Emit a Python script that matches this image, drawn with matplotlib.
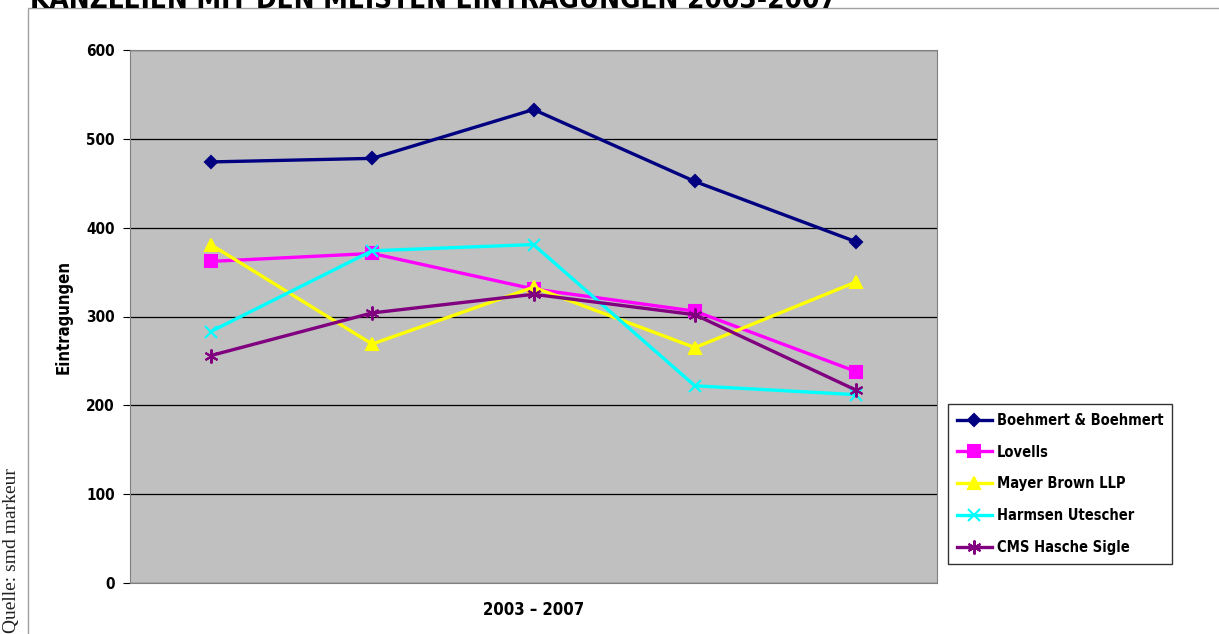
import matplotlib
matplotlib.use("Agg")
import matplotlib.pyplot as plt
from matplotlib.patches import Rectangle

plt.rcParams['font.family'] = ['Liberation Sans Narrow', 'DejaVu Sans']
plt.rcParams['font.stretch'] = 'condensed'

years = ['2003', '2004', '2005', '2006', '2007']
boehmert = [474, 478, 533, 452, 384]
lovells = [362, 371, 331, 306, 238]
mayer = [381, 269, 333, 265, 339]
harmsen = [283, 374, 381, 222, 212]
cms = [256, 304, 325, 302, 217]

series = [
    ('Boehmert & Boehmert', boehmert, '#000080', 'D', 6),
    ('Lovells', lovells, '#FF00FF', 's', 8),
    ('Mayer Brown LLP', mayer, '#FFFF00', '^', 9),
    ('Harmsen Utescher', harmsen, '#00FFFF', 'x', 9),
    ('CMS Hasche Sigle', cms, '#800080', (6, 2, 0), 10),
]

fig = plt.figure(figsize=(12.19, 6.34), dpi=100)

# outer chart frame
fig.patches.append(Rectangle((28 / 1219, -0.01), 1.0, (634 - 8) / 634 + 0.01,
                             transform=fig.transFigure, fill=False,
                             edgecolor='#a0a0a0', linewidth=1))

ax = fig.add_axes([130 / 1219, 51 / 634, 807 / 1219, 533 / 634])
ax.set_facecolor('#C0C0C0')

x = list(range(len(years)))
for name, vals, col, mk, ms in series:
    ax.plot(x, vals, color=col, linewidth=2.4, marker=mk, markersize=ms,
            markeredgecolor=col, markerfacecolor=col, markeredgewidth=1.5,
            label=name)

ax.set_xlim(-0.5, 4.5)
ax.set_ylim(0, 600)
ax.set_yticks(range(0, 601, 100))
ax.set_xticks([])
ax.yaxis.grid(True, color='black', linewidth=0.9)
ax.set_axisbelow(True)
for s in ax.spines.values():
    s.set_color('#808080')
ax.tick_params(axis='y', labelsize=11, length=5, pad=6, color='black')
for lbl in ax.get_yticklabels():
    lbl.set_fontweight('bold')

ax.set_ylabel('Eintragungen', fontsize=12, fontweight='bold', labelpad=10)
ax.set_xlabel('2003 – 2007', fontsize=12, fontweight='bold', labelpad=13)

leg = ax.legend(loc='upper left', bbox_to_anchor=(948 / 1219, 1 - 404 / 634),
                bbox_transform=fig.transFigure, fontsize=10.5, frameon=True,
                fancybox=False, edgecolor='black', borderpad=0.6,
                handlelength=2.4, handletextpad=0.35, labelspacing=1.15,
                borderaxespad=0)
for t in leg.get_texts():
    t.set_fontweight('bold')
leg.get_frame().set_linewidth(1)

fig.text(30 / 1219, 1 - 8 / 634, 'KANZLEIEN MIT DEN MEISTEN EINTRAGUNGEN 2003-2007',
         fontsize=20, fontweight='bold', va='baseline', ha='left')

fig.text(12 / 1219, 1 / 634, 'Quelle: smd markeur', rotation=90,
         family=['Liberation Serif', 'DejaVu Serif'], fontsize=14,
         va='bottom', ha='center', color='#222222')

fig.savefig('out.png', dpi=100)
